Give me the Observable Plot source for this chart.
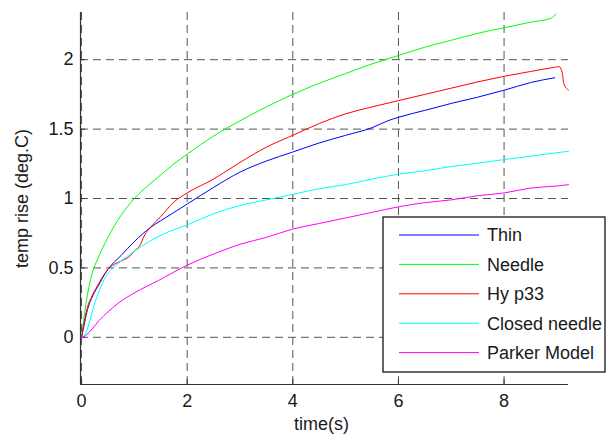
<!DOCTYPE html>
<html>
<head>
<meta charset="utf-8">
<script src="https://cdn.jsdelivr.net/npm/d3@7"></script>
<script src="https://cdn.jsdelivr.net/npm/@observablehq/plot@0.6"></script>
<style>
  html, body { margin: 0; padding: 0; background: #fff; }
  #chart { width: 606px; height: 441px; }
</style>
</head>
<body>
<div id="chart"></div>
<script>
// ---- data ----
const seriesNames = ["Thin", "Needle", "Hy p33", "Closed needle", "Parker Model"];
const seriesColors = ["#0000ff", "#00ff00", "#ff0000", "#00ffff", "#ff00ff"];

const thinT = [0, 0.05, 0.1, 0.2, 0.3, 0.5, 0.75, 1, 1.3, 1.5, 1.75, 2, 2.5, 3, 3.5, 4, 4.5, 5, 5.5, 5.8, 6, 6.5, 7, 7.5, 8, 8.5, 8.96];
const thinV = [0, 0.09, 0.18, 0.29, 0.36, 0.49, 0.59, 0.69, 0.79, 0.84, 0.9, 0.96, 1.08, 1.19, 1.27, 1.335, 1.4, 1.455, 1.51, 1.56, 1.585, 1.635, 1.685, 1.73, 1.78, 1.835, 1.87];

const needleT = [0, 0.05, 0.1, 0.2, 0.3, 0.5, 0.75, 1, 1.25, 1.5, 1.75, 2, 2.5, 3, 3.5, 4, 4.5, 5, 5.5, 6, 6.5, 7, 7.5, 8, 8.5, 8.9, 8.98];
const needleV = [0, 0.15, 0.28, 0.46, 0.56, 0.72, 0.88, 1.0, 1.09, 1.17, 1.25, 1.32, 1.45, 1.56, 1.66, 1.75, 1.83, 1.9, 1.97, 2.03, 2.09, 2.14, 2.19, 2.23, 2.27, 2.3, 2.33];

const hypT = [0, 0.05, 0.1, 0.2, 0.3, 0.5, 0.75, 0.9, 1, 1.1, 1.2, 1.3, 1.5, 1.75, 2, 2.5, 3, 3.5, 4, 4.5, 5, 5.5, 6, 6.5, 7, 7.5, 8, 8.5, 8.95, 9.04, 9.1, 9.13, 9.22];
const hypV = [0, 0.11, 0.2, 0.3, 0.37, 0.49, 0.55, 0.58, 0.62, 0.66, 0.74, 0.79, 0.87, 0.975, 1.04, 1.14, 1.26, 1.37, 1.455, 1.54, 1.61, 1.66, 1.705, 1.75, 1.795, 1.84, 1.88, 1.915, 1.945, 1.95, 1.91, 1.83, 1.78];

const closedT = [0, 0.05, 0.1, 0.15, 0.23, 0.36, 0.5, 0.6, 0.75, 1, 1.28, 1.65, 2, 2.5, 3, 3.5, 4, 4.5, 5, 5.5, 6, 6.5, 7, 7.5, 8, 8.5, 9, 9.22];
const closedV = [0, 0.01, 0.05, 0.11, 0.22, 0.36, 0.46, 0.5, 0.55, 0.62, 0.69, 0.76, 0.81, 0.89, 0.95, 0.99, 1.03, 1.07, 1.1, 1.14, 1.175, 1.2, 1.23, 1.255, 1.28, 1.305, 1.33, 1.34];

const parkerT = [0, 0.05, 0.1, 0.2, 0.33, 0.52, 0.71, 1, 1.46, 2, 2.5, 3, 3.5, 4, 4.5, 5, 5.5, 6, 6.5, 7, 7.5, 8, 8.5, 9, 9.22];
const parkerV = [0, 0.005, 0.02, 0.06, 0.12, 0.19, 0.25, 0.32, 0.41, 0.52, 0.6, 0.67, 0.72, 0.78, 0.82, 0.86, 0.9, 0.94, 0.97, 0.99, 1.02, 1.04, 1.075, 1.09, 1.1];

const xTicks = [0, 2, 4, 6, 8];
const xTickLabels = ["0", "2", "4", "6", "8"];
const yTicks = [0, 0.5, 1, 1.5, 2];
const yTickLabels = ["0", "0.5", "1", "1.5", "2"];
const xDomain = [-0.02, 9.22];
const yDomain = [-0.34, 2.34];
const xTitle = "time(s)";
const yTitle = "temp rise (deg.C)";

// ---- build table ----
const seriesT = [thinT, needleT, hypT, closedT, parkerT];
const seriesV = [thinV, needleV, hypV, closedV, parkerV];
const rows = [];
seriesNames.forEach((name, i) => {
  seriesT[i].forEach((t, j) => rows.push({series: name, t, v: seriesV[i][j]}));
});

const font = "'Liberation Sans', Arial, Helvetica, sans-serif";
const FS = 18;
const W = 606, H = 441;
const mL = 80, mR = 38, mT = 12, mB = 57;
const frameW = W - mL - mR, frameH = H - mT - mB;

const chart = Plot.plot({
  width: W,
  height: H,
  marginLeft: mL,
  marginRight: mR,
  marginTop: mT,
  marginBottom: mB,
  style: {fontFamily: font, fontSize: FS + "px", background: "#fff", color: "#1a1a1a", overflow: "visible"},
  x: {domain: xDomain},
  y: {domain: yDomain},
  color: {domain: seriesNames, range: seriesColors},
  marks: [
    Plot.gridX(xTicks, {stroke: "#555", strokeOpacity: 1, strokeWidth: 1, strokeDasharray: "8,5"}),
    Plot.gridY(yTicks, {stroke: "#555", strokeOpacity: 1, strokeWidth: 1, strokeDasharray: "8,5"}),
    Plot.ruleX(xTicks, {x: d => d, insetTop: frameH - 5, stroke: "#333"}),
    Plot.ruleY(yTicks, {y: d => d, insetRight: frameW - 5, stroke: "#333"}),
    Plot.ruleX([xDomain[0]], {stroke: "#333", strokeWidth: 1.2}),
    Plot.ruleY([yDomain[0]], {stroke: "#333", strokeWidth: 1.2}),
    Plot.line(rows, {x: "t", y: "v", z: "series", stroke: "series", strokeWidth: 1, curve: "monotone-x"}),
    Plot.axisX(xTicks, {tickSize: 0, tickPadding: 10, tickFormat: (d, i) => xTickLabels[i], label: null, fontSize: FS, fill: "#1a1a1a"}),
    Plot.axisY(yTicks, {tickSize: 0, tickPadding: 7, tickFormat: (d, i) => yTickLabels[i], label: null, fontSize: FS, fill: "#1a1a1a"}),
    Plot.text([xTitle], {frameAnchor: "bottom", dy: 45, fontSize: FS, fill: "#1a1a1a", dx: -3}),
    Plot.text([yTitle], {frameAnchor: "left", dx: -58, rotate: -90, textAnchor: "middle", fontSize: FS, fill: "#1a1a1a"})
  ]
});

document.getElementById("chart").appendChild(chart);

// ---- legend box (drawn inside the axes like MATLAB) ----
const svg = d3.select(chart);
const lg = svg.append("g").attr("font-family", font).attr("font-size", FS + "px").attr("text-anchor", "start");
const boxX = 383, boxY = 217, boxW = 222, boxH = 155;
lg.append("rect").attr("x", boxX).attr("y", boxY).attr("width", boxW).attr("height", boxH)
  .attr("fill", "#fff").attr("stroke", "#000").attr("stroke-width", 1.2);
seriesNames.forEach((name, i) => {
  const y = 235 + i * 29.4;
  lg.append("line").attr("x1", 399).attr("x2", 479).attr("y1", y).attr("y2", y)
    .attr("stroke", seriesColors[i]).attr("stroke-width", 1);
  lg.append("text").attr("x", 487).attr("y", y).attr("dy", "0.35em")
    .attr("text-anchor", "start").attr("fill", "#1a1a1a").text(name);
});
</script>
</body>
</html>
